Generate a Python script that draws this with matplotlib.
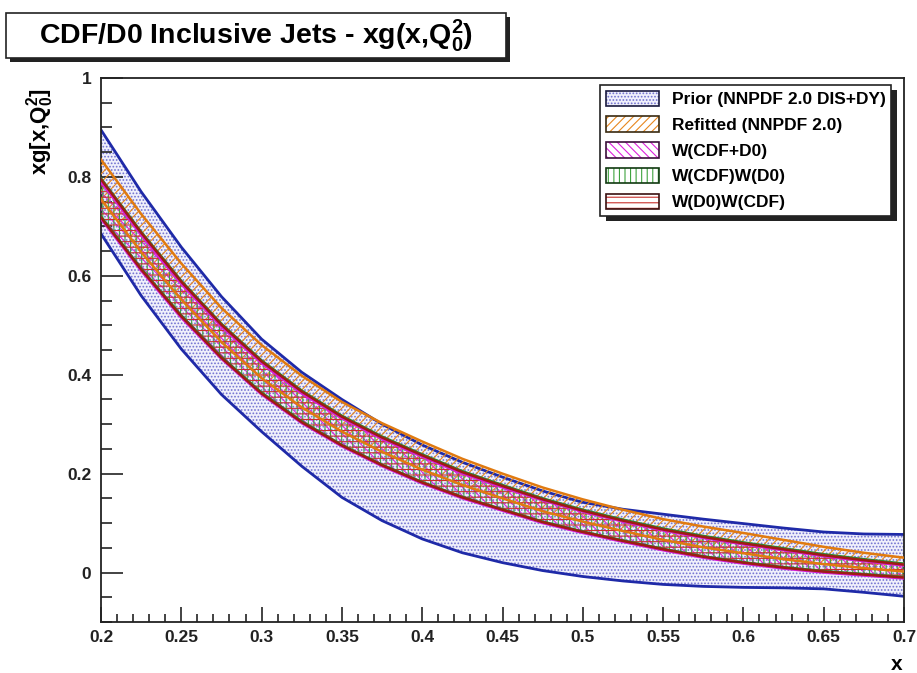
import numpy as np
import matplotlib
matplotlib.use('Agg')
import matplotlib.pyplot as plt
from matplotlib.patches import Patch, Rectangle
from matplotlib.legend_handler import HandlerTuple
from matplotlib.ticker import MultipleLocator, FixedLocator

plt.rcParams['font.family'] = ['Liberation Sans', 'DejaVu Sans']
plt.rcParams['font.weight'] = 'bold'
plt.rcParams['mathtext.fontset'] = 'custom'
plt.rcParams['mathtext.rm'] = 'Liberation Sans:bold'
plt.rcParams['mathtext.it'] = 'Liberation Sans:bold'
plt.rcParams['mathtext.bf'] = 'Liberation Sans:bold'
plt.rcParams['hatch.linewidth'] = 0.8

# x grid of the curves
x = [0.2, 0.225, 0.25, 0.275, 0.3, 0.325, 0.35, 0.375, 0.4, 0.425, 0.45,
     0.475, 0.5, 0.525, 0.55, 0.575, 0.6, 0.625, 0.65, 0.675, 0.7]

# Prior (NNPDF 2.0 DIS+DY)
prior_hi = [0.895, 0.77, 0.658, 0.558, 0.472, 0.405, 0.35, 0.3, 0.258, 0.223, 0.193,
            0.165, 0.142, 0.128, 0.118, 0.108, 0.099, 0.09, 0.082, 0.078, 0.077]
prior_lo = [0.685, 0.56, 0.452, 0.36, 0.285, 0.215, 0.152, 0.105, 0.068, 0.04, 0.02,
            0.004, -0.008, -0.017, -0.024, -0.028, -0.03, -0.031, -0.033, -0.04, -0.048]

# Refitted (NNPDF 2.0)
refit_hi = [0.835, 0.725, 0.625, 0.535, 0.46, 0.398, 0.345, 0.302, 0.265, 0.23, 0.2,
            0.172, 0.148, 0.127, 0.108, 0.093, 0.08, 0.066, 0.052, 0.04, 0.03]
refit_lo = [0.755, 0.648, 0.552, 0.466, 0.393, 0.334, 0.285, 0.244, 0.208, 0.177, 0.15,
            0.124, 0.103, 0.084, 0.066, 0.051, 0.039, 0.027, 0.017, 0.009, 0.002]

# W(CDF+D0)
wsum_hi = [0.79, 0.682, 0.583, 0.497, 0.423, 0.362, 0.312, 0.27, 0.234, 0.2, 0.172,
           0.146, 0.123, 0.103, 0.085, 0.07, 0.057, 0.045, 0.033, 0.023, 0.014]
wsum_lo = [0.715, 0.61, 0.515, 0.432, 0.36, 0.302, 0.255, 0.215, 0.18, 0.15, 0.125,
           0.1, 0.08, 0.062, 0.045, 0.03, 0.018, 0.008, 0.0, -0.006, -0.012]

# W(CDF)W(D0)
wcd_hi = [0.797, 0.689, 0.59, 0.503, 0.429, 0.368, 0.317, 0.275, 0.239, 0.205, 0.177,
          0.15, 0.127, 0.107, 0.089, 0.074, 0.061, 0.049, 0.037, 0.027, 0.018]
wcd_lo = [0.72, 0.615, 0.52, 0.436, 0.364, 0.306, 0.258, 0.218, 0.183, 0.153, 0.128,
          0.103, 0.083, 0.065, 0.048, 0.033, 0.021, 0.011, 0.003, -0.003, -0.009]

# W(D0)W(CDF)
wdc_hi = [0.795, 0.687, 0.588, 0.501, 0.427, 0.366, 0.315, 0.273, 0.237, 0.203, 0.175,
          0.148, 0.125, 0.105, 0.087, 0.072, 0.059, 0.047, 0.035, 0.025, 0.016]
wdc_lo = [0.718, 0.613, 0.518, 0.434, 0.362, 0.304, 0.257, 0.217, 0.182, 0.152, 0.127,
          0.102, 0.082, 0.064, 0.047, 0.032, 0.02, 0.01, 0.002, -0.004, -0.01]

labels = ['Prior (NNPDF 2.0 DIS+DY)', 'Refitted (NNPDF 2.0)', 'W(CDF+D0)',
          'W(CDF)W(D0)', 'W(D0)W(CDF)']

W, H = 917, 673
fig = plt.figure(figsize=(W / 100, H / 100), dpi=100)
ax = fig.add_axes([101 / W, 1 - 622 / H, 803 / W, 544 / H])

# prior band: dotted blue
ax.fill_between(x, prior_lo, prior_hi, facecolor='#f0f0fb', edgecolor='#7070d0',
                hatch='.....', linewidth=0, zorder=1)
ax.plot(x, prior_hi, color='#1f2aa8', lw=2, zorder=2)
ax.plot(x, prior_lo, color='#1f2aa8', lw=2, zorder=2)

bands = [
    (refit_lo, refit_hi, '#e8871e', '////'),
    (wsum_lo, wsum_hi, '#dd22dd', '\\\\\\\\'),
    (wcd_lo, wcd_hi, '#3fa33f', '|||'),
    (wdc_lo, wdc_hi, '#c8302c', '---'),
]
edge_cols = ['#e07a10', '#d81ed8', '#2e8b2e', '#9e1c14']
for (lo, hi, col, hatch), ec in zip(bands, edge_cols):
    ax.fill_between(x, lo, hi, facecolor='none', edgecolor=col, hatch=hatch,
                    linewidth=0, zorder=3)
for (lo, hi, col, hatch), ec in zip(bands, edge_cols):
    ax.plot(x, hi, color=ec, lw=1.8, zorder=4)
    ax.plot(x, lo, color=ec, lw=1.8, zorder=4)

ax.set_xlim(0.2, 0.7)
ax.set_ylim(-0.1, 1.0)
ax.xaxis.set_major_locator(FixedLocator([0.2, 0.25, 0.3, 0.35, 0.4, 0.45, 0.5, 0.55, 0.6, 0.65, 0.7]))
ax.xaxis.set_minor_locator(MultipleLocator(0.01))
ax.yaxis.set_major_locator(FixedLocator([0, 0.2, 0.4, 0.6, 0.8, 1.0]))
ax.yaxis.set_minor_locator(MultipleLocator(0.05))
ax.set_xticklabels(['0.2', '0.25', '0.3', '0.35', '0.4', '0.45', '0.5', '0.55',
                    '0.6', '0.65', '0.7'])
ax.set_yticklabels(['0', '0.2', '0.4', '0.6', '0.8', '1'])
ax.tick_params(which='both', direction='in', top=False, right=False, width=1.2,
               labelsize=12.5, colors='#222222')
ax.tick_params(axis='x', which='major', length=11, pad=6)
ax.tick_params(axis='x', which='minor', length=6)
ax.tick_params(axis='y', which='major', length=16, pad=7)
ax.tick_params(axis='y', which='minor', length=8)
for s in ax.spines.values():
    s.set_linewidth(1.3)
    s.set_color('#222222')

fig.text(897 / W, 1 - 665 / H, 'x', fontsize=15, fontweight='bold',
         ha='center', va='center')
fig.text(40 / W, 1 - 132 / H, r'xg[x,Q$_{0}^{2}$]', fontsize=16, fontweight='bold',
         rotation=90, ha='center', va='center')

# title box with shadow
fig.patches.append(Rectangle((10, H - 62), 500, 45, transform=None,
                             facecolor='#222222', edgecolor='none', zorder=1))
fig.patches.append(Rectangle((6, H - 58), 500, 45, transform=None,
                             facecolor='white', edgecolor='#222222', lw=1.2, zorder=2))
fig.text(256 / W, 1 - 36 / H, r'CDF/D0 Inclusive Jets - xg(x,Q$_{0}^{2}$)',
         fontsize=20.5, fontweight='bold', ha='center', va='center', zorder=3)

# legend
handles = [
    (Patch(facecolor='#f0f0fb', edgecolor='#7070d0', hatch='.....', lw=0),
     Patch(facecolor='none', edgecolor='#1a1a40', lw=1.2)),
    (Patch(facecolor='none', edgecolor='#e8871e', hatch='////', lw=0),
     Patch(facecolor='none', edgecolor='#3a2a10', lw=1.2)),
    (Patch(facecolor='none', edgecolor='#dd22dd', hatch='\\\\\\\\', lw=0),
     Patch(facecolor='none', edgecolor='#3a103a', lw=1.2)),
    (Patch(facecolor='none', edgecolor='#3fa33f', hatch='|||', lw=0),
     Patch(facecolor='none', edgecolor='#103a10', lw=1.2)),
    (Patch(facecolor='none', edgecolor='#c8302c', hatch='---', lw=0),
     Patch(facecolor='none', edgecolor='#3a1010', lw=1.2)),
]
leg = ax.legend(handles, labels, handler_map={tuple: HandlerTuple(ndivide=1, pad=0)},
                loc='upper left', bbox_to_anchor=(600 / W, 1 - 85 / H),
                bbox_transform=fig.transFigure, fontsize=12.5, frameon=True,
                fancybox=False, edgecolor='#222222', framealpha=1,
                handlelength=3.1, handleheight=1.0, labelspacing=0.52,
                borderpad=0.32, handletextpad=0.7, borderaxespad=0)
leg.get_frame().set_linewidth(1.2)
leg.set_zorder(10)

fig.canvas.draw()
bb = leg.get_window_extent()
ax.add_patch(Rectangle((bb.x0 + 6, bb.y0 - 5), bb.width, bb.height, transform=None,
                       facecolor='#222222', edgecolor='none', zorder=9, clip_on=False))

fig.savefig('out.png', dpi=100)
